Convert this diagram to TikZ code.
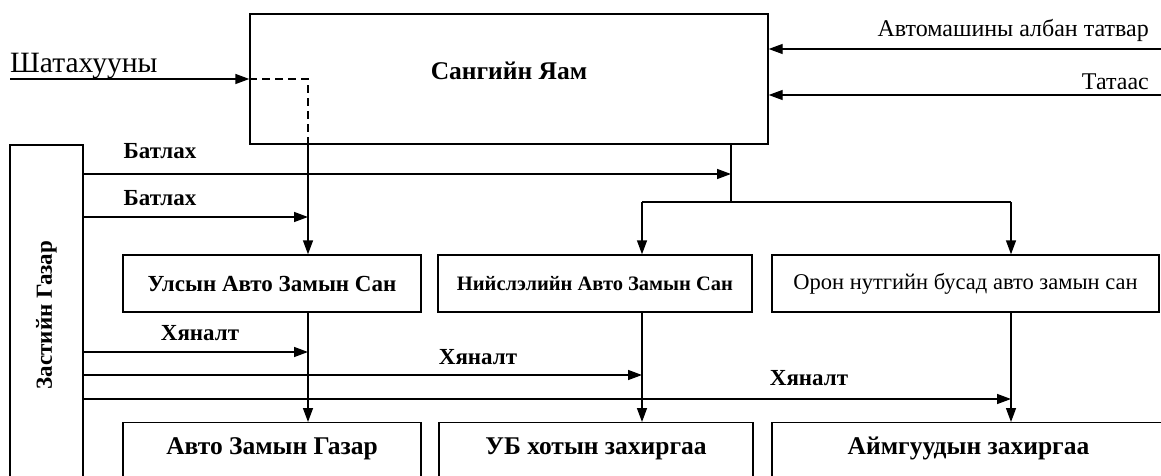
\documentclass[tikz,border=0pt]{standalone}
\usepackage{fontspec}
\setmainfont{Liberation Serif}
\usetikzlibrary{arrows.meta, positioning, calc}

\begin{document}
\begin{tikzpicture}[x=1pt, y=-1pt,
        box/.style={draw, line width=1.4pt, rectangle, inner sep=0pt, align=center},
        lowbox/.style={box, anchor=north, inner ysep=8pt, text height=24pt, text depth=40pt,
            font=\fontsize{25.5}{30}\selectfont\bfseries},
        flow/.style={line width=1.4pt, -{Triangle[length=14pt, width=10pt]}},
        plain/.style={line width=1.4pt},
        tag/.style={inner sep=0pt, font=\fontsize{23}{27}\selectfont\bfseries},
        src/.style={inner sep=0pt, font=\fontsize{24}{28}\selectfont}
    ]
        \fill[white] (0,0) rectangle (1161,476);
        \useasboundingbox (0,0) rectangle (1161,476);

        % Boxes
        \node[box, minimum width=518pt, minimum height=130pt, text height=18pt, text depth=16pt, font=\fontsize{25.5}{30}\selectfont\bfseries] (yam) at (509,79) {Сангийн Яам};
        \node[box, minimum width=73pt, minimum height=340pt, font=\fontsize{23}{27}\selectfont\bfseries] (zg) at (46.5,315) {\rotatebox{90}{Застийн Газар}};
        \node[box, minimum width=298pt, minimum height=57pt, font=\fontsize{23}{27}\selectfont\bfseries] (ulsyn) at (272,283.5) {Улсын Авто Замын Сан};
        \node[box, minimum width=314pt, minimum height=57pt, font=\fontsize{20.5}{24}\selectfont\bfseries] (niislel) at (595,283.5) {Нийслэлийн Авто Замын Сан};
        \node[box, minimum width=387pt, minimum height=57pt, font=\fontsize{22.5}{26}\selectfont] (oron) at (965.5,283.5) {Орон нутгийн бусад авто замын сан};
        \node[lowbox, minimum width=298pt] (azg) at (272,422) {Авто Замын Газар};
        \node[lowbox, minimum width=314pt] (ub) at (596,422) {УБ хотын захиргаа};
        \node[lowbox, minimum width=393pt] (aimag) at (968.5,422) {Аймгуудын захиргаа};

        % Labels
        \node[src, anchor=base west, font=\fontsize{29.5}{34}\selectfont] (shat) at (10,73) {Шатахууны};
        \node[src, anchor=east] (tatvar) at (1149,30) {Автомашины албан татвар};
        \node[src, anchor=east] (tataas) at (1149,82) {Татаас};
        \node[tag] (bat1) at (160,151) {Батлах};
        \node[tag] (bat2) at (160,198) {Батлах};
        \node[tag] (hyan1) at (200,333) {Хяналт};
        \node[tag] (hyan2) at (478,357) {Хяналт};
        \node[tag] (hyan3) at (809,378) {Хяналт};

        % Inputs
        \coordinate (shin) at (10,79);
        \coordinate (tin) at (1161,49);
        \coordinate (sin) at (1161,95);
        \draw[flow] (shin) -- (shin -| yam.west);
        \draw[flow] (tin) -- (tin -| yam.east);
        \draw[flow] (sin) -- (sin -| yam.east);

        % Fuel pass-through
        \coordinate (ax) at (308,79);
        \draw[plain, dash pattern=on 8pt off 5pt] (ax -| yam.west) -- (ax) -- (ax |- yam.south);
        \draw[flow] (ax |- yam.south) -- (ax |- ulsyn.north);
        \draw[flow] (ax |- ulsyn.south) -- (ax |- azg.north);

        % Split to the funds
        \coordinate (sp) at (731,202);
        \coordinate (nx) at (642,202);
        \coordinate (ox) at (1011,202);
        \draw[plain] (sp |- yam.south) -- (sp);
        \draw[plain] (nx) -- (ox);
        \draw[flow] (nx) -- (nx |- niislel.north);
        \draw[flow] (ox) -- (ox |- oron.north);
        \draw[flow] (nx |- niislel.south) -- (nx |- ub.north);
        \draw[flow] (ox |- oron.south) -- (ox |- aimag.north);

        % Approval and control
        \coordinate (b1) at (731,174);
        \coordinate (b2) at (308,217);
        \coordinate (h1) at (308,352);
        \coordinate (h2) at (642,375);
        \coordinate (h3) at (1011,399);
        \draw[flow] (zg.east |- b1) -- (b1);
        \draw[flow] (zg.east |- b2) -- (b2);
        \draw[flow] (zg.east |- h1) -- (h1);
        \draw[flow] (zg.east |- h2) -- (h2);
        \draw[flow] (zg.east |- h3) -- (h3);
    \end{tikzpicture}
\end{document}
